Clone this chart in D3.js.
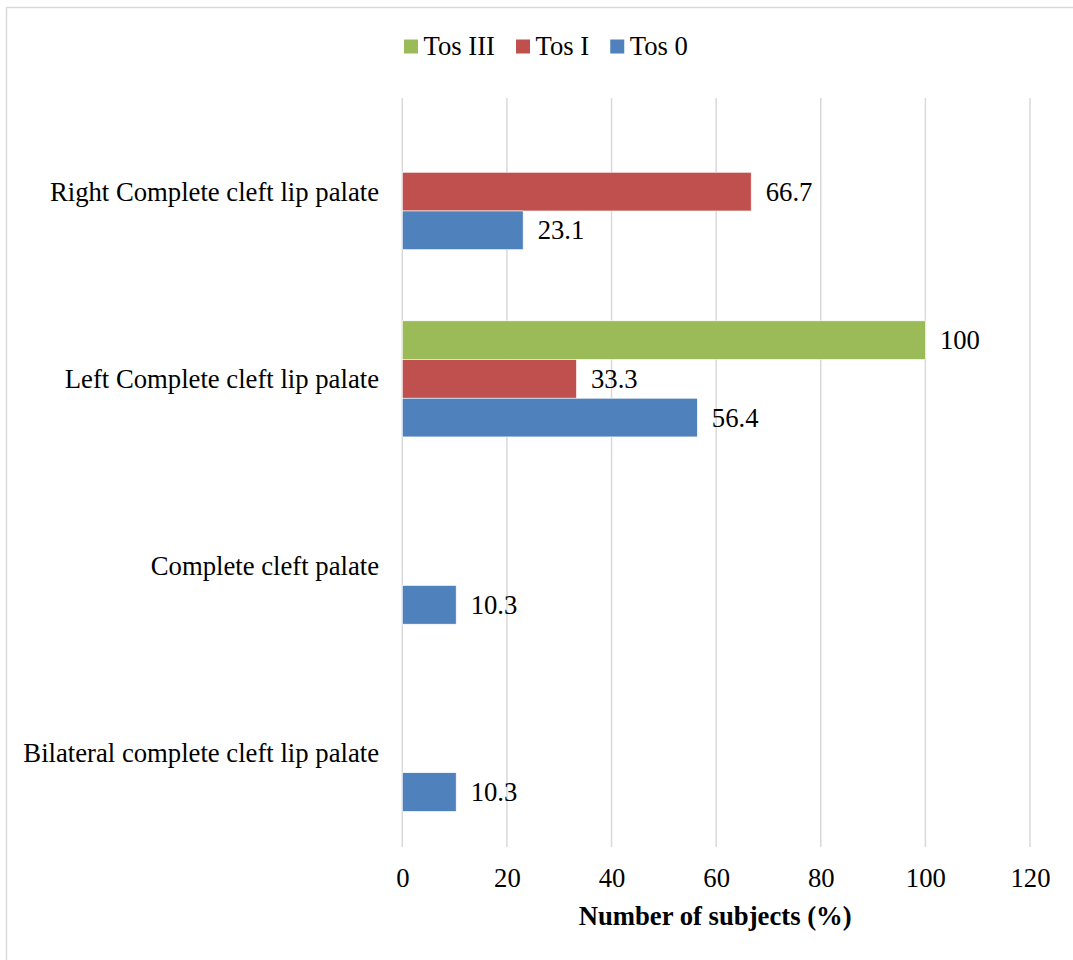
<!DOCTYPE html>
<html>
<head>
<meta charset="utf-8">
<script src="https://cdn.jsdelivr.net/npm/d3@7"></script>
<style>
  html, body { margin: 0; padding: 0; background: #fff; }
  svg { display: block; }
  text { font-family: "Liberation Serif", "Times New Roman", serif; fill: #000; }
</style>
</head>
<body>
<svg id="chart" width="1073" height="960"></svg>
<script>
// ---- Data ----
const categories = [
  "Right Complete cleft lip palate",
  "Left Complete cleft lip palate",
  "Complete cleft palate",
  "Bilateral complete cleft lip palate"
];
const seriesNames = ["Tos III", "Tos I", "Tos 0"];
const tosIII = [null, 100, null, null];
const tosI   = [66.7, 33.3, null, null];
const tos0   = [23.1, 56.4, 10.3, 10.3];
const seriesColors = ["#9BBB59", "#C0504D", "#4F81BD"];
const xTicks = [0, 20, 40, 60, 80, 100, 120];
const xTitle = "Number of subjects (%)";

const seriesValues = [tosIII, tosI, tos0];
const FS = 26.7;

// ---- Layout ----
const svg = d3.select("#chart");
const plot = { left: 402.3, right: 1030, top: 98, bottom: 847 };

// outer border
svg.append("rect")
  .attr("x", 6.5).attr("y", 7.5)
  .attr("width", 1100).attr("height", 1000)
  .attr("fill", "none").attr("stroke", "#d9d9d9").attr("stroke-width", 1.5);

const x = d3.scaleLinear().domain([0, 120]).range([plot.left, plot.right]);
const y = d3.scaleBand().domain(categories).range([plot.top, plot.bottom])
  .paddingInner(0.38).paddingOuter(0.19);
const ys = d3.scaleBand().domain(seriesNames).range([0, y.bandwidth()]).padding(0);
const color = d3.scaleOrdinal().domain(seriesNames).range(seriesColors);

// gridlines
svg.append("g").selectAll("line").data(xTicks).join("line")
  .attr("x1", d => x(d)).attr("x2", d => x(d))
  .attr("y1", plot.top).attr("y2", plot.bottom)
  .attr("stroke", "#d9d9d9").attr("stroke-width", 1.5);

// bars
const flat = [];
categories.forEach((c, i) => {
  seriesNames.forEach((s, j) => {
    const v = seriesValues[j][i];
    if (v !== null && v !== undefined) flat.push({ cat: c, series: s, value: v });
  });
});

svg.append("g").selectAll("rect").data(flat).join("rect")
  .attr("x", x(0))
  .attr("y", d => y(d.cat) + ys(d.series))
  .attr("width", d => x(d.value) - x(0))
  .attr("height", ys.bandwidth())
  .attr("fill", d => color(d.series))
  .attr("stroke", "#ffffff").attr("stroke-width", 0.6);

// value labels
svg.append("g").selectAll("text").data(flat).join("text")
  .attr("x", d => x(d.value) + 14.5)
  .attr("y", d => y(d.cat) + ys(d.series) + ys.bandwidth() / 2 + 9)
  .attr("font-size", FS)
  .text(d => d.value);

// category labels
svg.append("g").selectAll("text").data(categories).join("text")
  .attr("x", 379)
  .attr("y", d => y(d) + y.bandwidth() / 2 + 9)
  .attr("text-anchor", "end")
  .attr("font-size", FS)
  .text(d => d);

// x axis
const axis = d3.axisBottom(x).tickValues(xTicks).tickSize(0).tickFormat(d3.format("d"));
const gx = svg.append("g").attr("transform", `translate(0,${plot.bottom})`).call(axis);
gx.select(".domain").remove();
gx.selectAll("text")
  .attr("y", 40).attr("dy", 0)
  .attr("font-size", FS)
  .attr("font-family", '"Liberation Serif", "Times New Roman", serif')
  .attr("fill", "#000");

// axis title
svg.append("text")
  .attr("x", (plot.left + plot.right) / 2 - 1)
  .attr("y", 925)
  .attr("text-anchor", "middle")
  .attr("font-size", FS)
  .attr("font-weight", "bold")
  .text(xTitle);

// legend
const legend = svg.append("g");
let lx = 404;
seriesNames.forEach((s, i) => {
  legend.append("rect")
    .attr("x", lx).attr("y", 39.5)
    .attr("width", 14).attr("height", 14)
    .attr("fill", color(s));
  const t = legend.append("text")
    .attr("x", lx + 19.5).attr("y", 55)
    .attr("font-size", FS)
    .text(s);
  const w = t.node().getComputedTextLength();
  lx = lx + 19.5 + w + 21;
});
</script>
</body>
</html>
